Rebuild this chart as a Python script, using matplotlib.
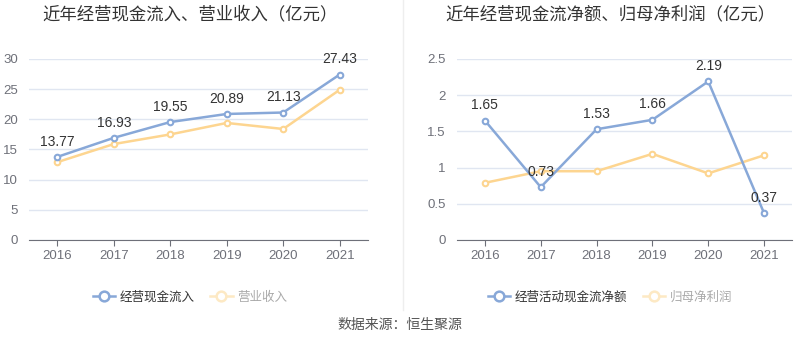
import matplotlib
matplotlib.use('Agg')
import matplotlib.pyplot as plt
from matplotlib.lines import Line2D

plt.rcParams['font.family'] = ['Liberation Sans', 'Noto Sans CJK SC', 'DejaVu Sans']

# Data
years = ['2016', '2017', '2018', '2019', '2020', '2021']
cash_in = [13.77, 16.93, 19.55, 20.89, 21.13, 27.43]
revenue = [12.9, 15.9, 17.5, 19.4, 18.4, 24.9]
net_cash = [1.65, 0.73, 1.53, 1.66, 2.19, 0.37]
net_profit = [0.79, 0.95, 0.95, 1.19, 0.92, 1.17]

blue = '#88a8d8'
orange = '#fdd590'
cjk = ['Noto Sans CJK SC', 'DejaVu Sans']

fig = plt.figure(figsize=(8, 3.58), dpi=100)
ax1 = fig.add_axes([29/800, 1 - 240/358, (368-29)/800, (240-59)/358])
ax2 = fig.add_axes([457/800, 1 - 240/358, (792-457)/800, (240-59)/358])


def style(ax, ymax, yticks, ylabels):
    ax.set_xlim(-0.5, 5.5)
    ax.set_ylim(0, ymax)
    ax.set_yticks(yticks)
    ax.set_yticklabels(ylabels)
    ax.set_xticks(range(len(years)))
    ax.set_xticklabels(years)
    for s in ['top', 'right', 'left']:
        ax.spines[s].set_visible(False)
    ax.spines['bottom'].set_color('#6e7079')
    ax.grid(axis='y', color='#e0e6f1', lw=1)
    ax.set_axisbelow(True)
    ax.tick_params(axis='y', length=0, labelsize=9.5, labelcolor='#6e7079', pad=8)
    ax.tick_params(axis='x', length=4, color='#6e7079', labelsize=9.5, labelcolor='#6e7079')


def draw(ax, a, b, fmt):
    x = range(len(years))
    ax.plot(x, b, color=orange, lw=1.8, marker='o', ms=4, mfc='white', mec=orange, mew=1.5, zorder=3)
    ax.plot(x, a, color=blue, lw=1.8, marker='o', ms=4, mfc='white', mec=blue, mew=1.5, zorder=4)
    for i, v in enumerate(a):
        ax.annotate(fmt(v), (i, v), xytext=(0, 6), textcoords='offset points',
                    ha='center', va='bottom', fontsize=10, color='#333333', zorder=5)


style(ax1, 30, [0, 5, 10, 15, 20, 25, 30], ['0', '5', '10', '15', '20', '25', '30'])
draw(ax1, cash_in, revenue, lambda v: f'{v:.2f}')
style(ax2, 2.5, [0, 0.5, 1, 1.5, 2, 2.5], ['0', '0.5', '1', '1.5', '2', '2.5'])
draw(ax2, net_cash, net_profit, lambda v: f'{v:g}')

fig.text(190/800, 1 - 14/358, '近年经营现金流入、营业收入（亿元）', ha='center', va='center',
         fontsize=12.5, color='#333333', family=cjk)
fig.text(610/800, 1 - 14/358, '近年经营现金流净额、归母净利润（亿元）', ha='center', va='center',
         fontsize=12.5, color='#333333', family=cjk)

# divider
fig.add_artist(Line2D([403/800, 403/800], [1 - 310/358, 1.0], color='#eeeeee', lw=1))


def legend(ax, labels, cx):
    handles = [
        Line2D([0], [0], color=blue, lw=1.8, marker='o', ms=7, mfc='white', mec=blue, mew=1.8),
        Line2D([0], [0], color='#fde9c4', lw=1.8, marker='o', ms=7, mfc='white', mec='#fde9c4', mew=1.8),
    ]
    leg = fig.legend(handles, labels, loc='center', bbox_to_anchor=(cx, 1 - 297/358),
                     ncol=2, frameon=False, prop={'family': cjk, 'size': 9},
                     handlelength=1.8, columnspacing=1.2, handletextpad=0.4)
    leg.get_texts()[0].set_color('#333333')
    leg.get_texts()[1].set_color('#aaaaaa')


legend(ax1, ['经营现金流入', '营业收入'], 190/800)
legend(ax2, ['经营活动现金流净额', '归母净利润'], 610/800)

fig.text(400/800, 1 - 325/358, '数据来源：恒生聚源', ha='center', va='center', fontsize=10,
         color='#555555', family=cjk)

fig.savefig('out.png', dpi=100)
